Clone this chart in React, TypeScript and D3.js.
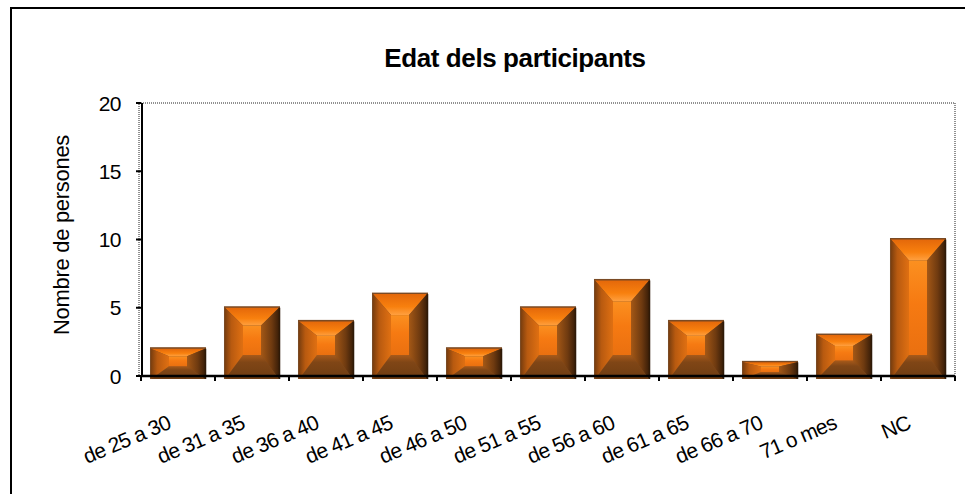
import React from 'react';
import * as d3 from 'd3';

// dades del gràfic
const categories = [
  'de 25 a 30', 'de 31 a 35', 'de 36 a 40', 'de 41 a 45', 'de 46 a 50',
  'de 51 a 55', 'de 56 a 60', 'de 61 a 65', 'de 66 a 70', '71 o mes', 'NC',
];
const persones = [2, 5, 4, 6, 2, 5, 7, 4, 1, 3, 10];
const yTicks = [0, 5, 10, 15, 20];

const W = 965;
const H = 494;
const plot = { left: 141, right: 955, top: 103, bottom: 376 };
const font = '"Liberation Sans", Arial, sans-serif';

const x = d3.scaleBand<string>()
  .domain(categories)
  .range([plot.left, plot.right])
  .padding(0);

const y = d3.scaleLinear()
  .domain([0, 20])
  .range([plot.bottom, plot.top]);

// una barra amb aspecte de bisell (com l'Excel)
const BevelBar: React.FC<{ cat: string; value: number }> = ({ cat, value }) => {
  const bw = x.bandwidth() * 0.73;
  const x0 = x(cat)! + (x.bandwidth() - bw) / 2;
  const x1 = x0 + bw;
  const y0 = y(value);
  const y1 = y(0) + 3;
  const h = y1 - y0;
  const bx = Math.min(18, bw / 2 - 8);
  const bt = Math.min(21, h * 0.25);
  const bb = Math.min(24, h * 0.42);
  const ax = x0 + bx, bxr = x1 - bx, at = y0 + bt, ab = y1 - bb;
  const pts = (p: number[][]) => p.map(d => d.join(',')).join(' ');
  return (
    <g>
      <rect x={x0 - 1} y={y0 - 1.5} width={bw + 2} height={h + 1.5} fill="#7a4a24" />
      <polygon points={pts([[x0, y0], [x1, y0], [bxr, at], [ax, at]])} fill="url(#gTop)" />
      <polygon points={pts([[x1, y0], [x1, y1], [bxr, ab], [bxr, at]])} fill="url(#gRight)" />
      <polygon points={pts([[x0, y1], [x1, y1], [bxr, ab], [ax, ab]])} fill="url(#gBottom)" />
      <polygon points={pts([[x0, y0], [ax, at], [ax, ab], [x0, y1]])} fill="url(#gLeft)" />
      <polygon points={pts([[ax, at], [bxr, at], [bxr, ab], [ax, ab]])} fill="url(#gCenter)" />
      <line x1={x1 + 0.5} x2={x1 + 0.5} y1={y0} y2={y1} stroke="#2e1a08" strokeWidth={1.5} />
    </g>
  );
};

const App: React.FC = () => {
  const boundaries = [...categories.map(c => x(c)!), plot.right];
  return (
    <svg width={W} height={H} style={{ position: 'absolute', left: 0, top: 0, background: '#fff' }}>
      <defs>
        <linearGradient id="gTop" x1="0" y1="0" x2="0" y2="1">
          <stop offset="0" stopColor="#e4680a" />
          <stop offset="0.6" stopColor="#f8800e" />
          <stop offset="1" stopColor="#ffa040" />
        </linearGradient>
        <linearGradient id="gLeft" x1="0" y1="0" x2="1" y2="0">
          <stop offset="0" stopColor="#7a3e0e" />
          <stop offset="0.35" stopColor="#b85a10" />
          <stop offset="1" stopColor="#e07012" />
        </linearGradient>
        <linearGradient id="gRight" x1="1" y1="0" x2="0" y2="0">
          <stop offset="0" stopColor="#3a1e08" />
          <stop offset="0.4" stopColor="#6e3a10" />
          <stop offset="1" stopColor="#a45816" />
        </linearGradient>
        <linearGradient id="gBottom" x1="0" y1="1" x2="0" y2="0">
          <stop offset="0" stopColor="#6e3c12" />
          <stop offset="0.7" stopColor="#804616" />
          <stop offset="1" stopColor="#a85a1a" />
        </linearGradient>
        <linearGradient id="gCenter" x1="0" y1="0" x2="0" y2="1">
          <stop offset="0" stopColor="#fb9020" />
          <stop offset="0.45" stopColor="#f67a12" />
          <stop offset="1" stopColor="#ea7010" />
        </linearGradient>
      </defs>

      {/* marc exterior */}
      <rect x={11} y={8} width={980} height={520} fill="none" stroke="#000" strokeWidth={2} />

      <text x={515} y={67} textAnchor="middle" fontFamily={font} fontWeight="bold" fontSize={26}
        letterSpacing={-0.4}>
        Edat dels participants
      </text>

      {/* àrea del gràfic amb vora puntejada */}
      <rect x={plot.left - 2} y={plot.top} width={plot.right - plot.left + 2} height={plot.bottom - plot.top}
        fill="none" stroke="#222" strokeWidth={1} strokeDasharray="1,1" />

      {categories.map((c, i) => (
        <BevelBar key={c} cat={c} value={persones[i]} />
      ))}

      {/* eix Y */}
      <line x1={plot.left + 1} x2={plot.left + 1} y1={plot.top} y2={plot.bottom + 1} stroke="#000" strokeWidth={2} />
      {yTicks.map(t => (
        <g key={t}>
          <line x1={plot.left - 5} x2={plot.left} y1={y(t)} y2={y(t)} stroke="#000" strokeWidth={2} />
          <text x={121} y={y(t)} dy="0.36em" textAnchor="end" fontFamily={font} fontSize={21}
            letterSpacing={-0.5}>{t}</text>
        </g>
      ))}
      <text transform={`translate(61,235) rotate(-90)`} dy="0.35em" textAnchor="middle"
        fontFamily={font} fontSize={22} letterSpacing={-0.3}>
        Nombre de persones
      </text>

      {/* eix X */}
      <line x1={plot.left} x2={plot.right} y1={plot.bottom} y2={plot.bottom} stroke="#000" strokeWidth={2.5} />
      {boundaries.map((b, i) => (
        <line key={i} x1={b} x2={b} y1={plot.bottom} y2={plot.bottom + 5} stroke="#000" strokeWidth={2} />
      ))}
      {categories.map(c => (
        <text key={c} transform={`translate(${x(c)! + x.bandwidth() / 2 - 6},${428}) rotate(-23)`}
          textAnchor="end" fontFamily={font} fontSize={21} letterSpacing={-0.7}>
          {c}
        </text>
      ))}
    </svg>
  );
};

export default App;
